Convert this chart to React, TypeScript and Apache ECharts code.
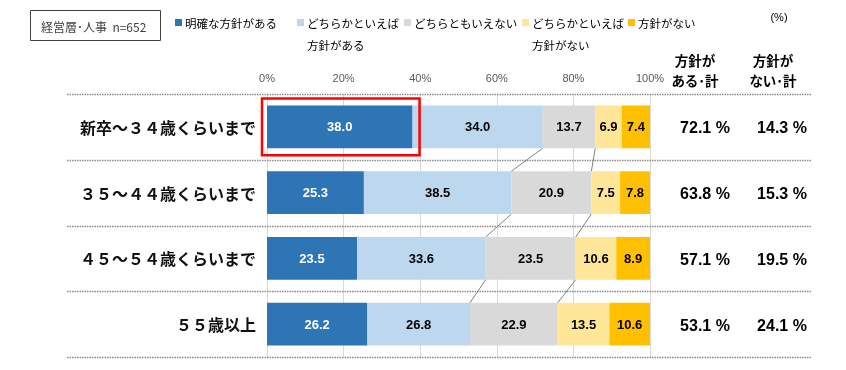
import React, { useEffect, useRef } from 'react';
import * as echarts from 'echarts';

const categories = ['新卒～３４歳くらいまで', '３５～４４歳くらいまで', '４５～５４歳くらいまで', '５５歳以上'];
const seriesNames = ['明確な方針がある', 'どちらかといえば方針がある', 'どちらともいえない', 'どちらかといえば方針がない', '方針がない'];
const legendLabels = ['明確な方針がある', 'どちらかといえば\n方針がある', 'どちらともいえない', 'どちらかといえば\n方針がない', '方針がない'];
const valClear = [38.0, 25.3, 23.5, 26.2];
const valRather = [34.0, 38.5, 33.6, 26.8];
const valNeutral = [13.7, 20.9, 23.5, 22.9];
const valRatherNo = [6.9, 7.5, 10.6, 13.5];
const valNo = [7.4, 7.8, 8.9, 10.6];
const totalYes = [72.1, 63.8, 57.1, 53.1];
const totalNo = [14.3, 15.3, 19.5, 24.1];
const headerYes = '方針が\nある･計';
const headerNo = '方針が\nない･計';
const sampleNote = '経営層･人事  n=652';
const unitNote = '(%)';

const colors = ['#2E75B6', '#BDD7EE', '#D9D9D9', '#FFE699', '#FFC000'];
const JP = "'Noto Sans CJK JP', sans-serif";
const NUM = "'Liberation Sans', Arial, 'Noto Sans CJK JP', sans-serif";

export default function App() {
  const ref = useRef<HTMLDivElement>(null);
  useEffect(() => {
    if (!ref.current) return;
    const chart = echarts.init(ref.current, null, { renderer: 'svg' });
    const allValues = [valClear, valRather, valNeutral, valRatherNo, valNo];
    const gap = 0.35;
    const series = allValues.map((vals, i) => ({
      name: seriesNames[i],
      type: 'bar',
      stack: 'total',
      barCategoryGap: '35%',
      data: vals,
      itemStyle: { color: colors[i] },
      label: {
        show: true,
        position: 'inside',
        formatter: (p: any) => Number(p.value).toFixed(1),
        color: i === 0 ? '#ffffff' : '#000000',
        fontSize: 13,
        fontWeight: 'bold',
        fontFamily: NUM,
      },
    }));
    const option: any = {
      animation: false,
      textStyle: { fontFamily: JP },
      grid: { left: 267, top: 94, width: 383, height: 263 },
      xAxis: {
        type: 'value',
        position: 'top',
        min: 0,
        max: 100,
        interval: 20,
        axisLine: { show: false },
        axisTick: { show: false },
        axisLabel: { formatter: '{value}%', color: '#595959', fontSize: 11, fontFamily: NUM, margin: 11 },
        splitLine: { show: true, lineStyle: { color: '#D9D9D9', width: 1 } },
      },
      yAxis: {
        type: 'category',
        inverse: true,
        data: categories,
        axisLine: { show: false },
        axisTick: { show: false },
        axisLabel: { color: '#111', fontSize: 16, fontWeight: 'bold', fontFamily: JP, margin: 11 },
      },
      series,
    };
    chart.setOption(option);

    const px = (v: number) => chart.convertToPixel({ xAxisIndex: 0 }, v) as number;
    const py = (i: number) => chart.convertToPixel({ yAxisIndex: 0 }, i) as number;
    const band = py(1) - py(0);
    const barH = band * (1 - gap);
    const graphics: any[] = [];

    // separators
    for (let k = 0; k <= categories.length; k++) {
      const y = Math.round(py(0) - band / 2 + k * band) + 0.5;
      graphics.push({ type: 'line', shape: { x1: 67, y1: y, x2: 812, y2: y }, style: { stroke: '#8c8c8c', lineWidth: 1.5, lineDash: [1.5, 1] }, z: 1 });
    }
    // connector lines
    const cum2 = valClear.map((v, i) => v + valRather[i]);
    const cum3 = cum2.map((v, i) => v + valNeutral[i]);
    [cum2, cum3].forEach((cum) => {
      for (let i = 0; i < categories.length - 1; i++) {
        graphics.push({
          type: 'line',
          shape: { x1: px(cum[i]), y1: py(i) + barH / 2, x2: px(cum[i + 1]), y2: py(i + 1) - barH / 2 },
          style: { stroke: '#808080', lineWidth: 1 },
          z: 10,
        });
      }
    });
    // red highlight box
    graphics.push({
      type: 'rect',
      shape: { x: px(0) - 5, y: py(0) - barH / 2 - 7, width: px(valClear[0]) - px(0) + 12, height: barH + 14 },
      style: { fill: 'none', stroke: '#FF0000', lineWidth: 2.5 },
      z: 20,
    });
    // totals
    categories.forEach((_, i) => {
      graphics.push({ type: 'text', x: 705, y: py(i) + 1, style: { text: totalYes[i].toFixed(1) + ' %', font: `bold 16px ${NUM}`, fill: '#000', align: 'center', verticalAlign: 'middle' }, z: 20 });
      graphics.push({ type: 'text', x: 782, y: py(i) + 1, style: { text: totalNo[i].toFixed(1) + ' %', font: `bold 16px ${NUM}`, fill: '#000', align: 'center', verticalAlign: 'middle' }, z: 20 });
    });
    // headers
    graphics.push({ type: 'text', x: 695, y: 70, style: { text: headerYes, font: `bold 13.5px ${JP}`, fill: '#000', align: 'center', verticalAlign: 'middle', lineHeight: 20 } });
    graphics.push({ type: 'text', x: 773, y: 70, style: { text: headerNo, font: `bold 13.5px ${JP}`, fill: '#000', align: 'center', verticalAlign: 'middle', lineHeight: 20 } });
    graphics.push({ type: 'text', x: 779, y: 17, style: { text: unitNote, font: `11px ${NUM}`, fill: '#000', align: 'center', verticalAlign: 'middle' } });
    // sample box
    graphics.push({ type: 'rect', shape: { x: 30.5, y: 10.5, width: 130, height: 30 }, style: { fill: '#fff', stroke: '#404040', lineWidth: 1 } });
    graphics.push({ type: 'text', x: 41, y: 26, style: { text: sampleNote, font: `12px ${JP}`, fill: '#404040', verticalAlign: 'middle' } });
    // legend
    const legX = [175, 297, 404, 522, 628];
    legendLabels.forEach((t, i) => {
      const multi = t.includes('\n');
      graphics.push({ type: 'rect', shape: { x: legX[i], y: 19, width: 7, height: 7 }, style: { fill: colors[i] } });
      graphics.push({
        type: 'text',
        x: legX[i] + 10,
        y: multi ? 12 : 23,
        style: { text: t, font: `11.5px ${JP}`, fill: '#000', verticalAlign: multi ? 'top' : 'middle', lineHeight: 22 },
      });
    });
    chart.setOption({ graphic: graphics });
    return () => chart.dispose();
  }, []);
  return <div ref={ref} style={{ position: 'fixed', left: 0, top: 0, width: 846, height: 370 }} />;
}
